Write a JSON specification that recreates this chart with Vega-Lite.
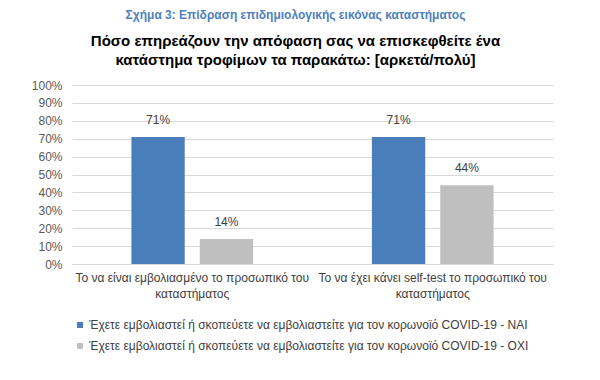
{
  "$schema": "https://vega.github.io/schema/vega-lite/v6.json",
  "autosize": "none",
  "width": 481,
  "height": 179,
  "padding": {"left": 72, "top": 85, "right": 47, "bottom": 116},
  "background": "white",
  "title": {
    "text": "Σχήμα 3: Επίδραση επιδημιολογικής εικόνας καταστήματος",
    "subtitle": ["Πόσο επηρεάζουν την απόφαση σας να επισκεφθείτε ένα", "κατάστημα τροφίμων τα παρακάτω: [αρκετά/πολύ]"],
    "anchor": "middle",
    "dx": -17,
    "offset": 10,
    "font": "Liberation Sans",
    "fontSize": 12,
    "fontWeight": "bold",
    "color": "#4f81bd",
    "subtitleFont": "Liberation Sans",
    "subtitleFontSize": 15,
    "subtitleFontWeight": "bold",
    "subtitleColor": "#000000",
    "subtitleLineHeight": 19,
    "subtitlePadding": 12
  },
  "data": {
    "values": [
      {"category": "Το να είναι εμβολιασμένο το προσωπικό του|καταστήματος", "group": "Έχετε εμβολιαστεί ή σκοπεύετε να εμβολιαστείτε για τον κορωνοϊό COVID-19 - ΝΑΙ", "value": 0.71},
      {"category": "Το να είναι εμβολιασμένο το προσωπικό του|καταστήματος", "group": "Έχετε εμβολιαστεί ή σκοπεύετε να εμβολιαστείτε για τον κορωνοϊό COVID-19 - ΟΧΙ", "value": 0.14},
      {"category": "Το να έχει κάνει self-test το προσωπικό του|καταστήματος", "group": "Έχετε εμβολιαστεί ή σκοπεύετε να εμβολιαστείτε για τον κορωνοϊό COVID-19 - ΝΑΙ", "value": 0.71},
      {"category": "Το να έχει κάνει self-test το προσωπικό του|καταστήματος", "group": "Έχετε εμβολιαστεί ή σκοπεύετε να εμβολιαστείτε για τον κορωνοϊό COVID-19 - ΟΧΙ", "value": 0.44}
    ]
  },
  "encoding": {
    "x": {
      "field": "category",
      "type": "nominal",
      "sort": null,
      "scale": {"paddingInner": 0.494, "paddingOuter": 0.247},
      "axis": {
        "title": null,
        "labelAngle": 0,
        "labelExpr": "split(datum.label, '|')",
        "labelFont": "Liberation Sans",
        "labelFontSize": 12,
        "labelColor": "#404040",
        "labelLineHeight": 16,
        "labelPadding": 8,
        "ticks": false,
        "domain": true,
        "domainColor": "#d9d9d9",
        "labelLimit": 300
      }
    },
    "xOffset": {
      "field": "group",
      "type": "nominal",
      "sort": null,
      "scale": {"paddingInner": 0.22, "paddingOuter": 0}
    },
    "y": {
      "field": "value",
      "type": "quantitative",
      "scale": {"domain": [0, 1], "nice": false},
      "axis": {
        "title": null,
        "format": ".0%",
        "values": [0, 0.1, 0.2, 0.3, 0.4, 0.5, 0.6, 0.7, 0.8, 0.9, 1],
        "labelFont": "Liberation Sans",
        "labelFontSize": 12,
        "labelColor": "#595959",
        "labelPadding": 10,
        "ticks": false,
        "domain": false,
        "gridColor": "#d9d9d9",
        "gridWidth": 1
      }
    }
  },
  "layer": [
    {
      "mark": {"type": "bar"},
      "encoding": {
        "color": {
          "field": "group",
          "type": "nominal",
          "sort": null,
          "scale": {"range": ["#4a7ebb", "#bfbfbf"]},
          "legend": {
            "title": null,
            "orient": "none",
            "direction": "vertical",
            "legendX": 2,
            "legendY": 234,
            "symbolType": "square",
            "symbolSize": 36,
            "symbolStrokeWidth": 0,
            "labelFont": "Liberation Sans",
            "labelFontSize": 12,
            "labelColor": "#404040",
            "labelLimit": 600,
            "rowPadding": 9,
            "labelOffset": 3
          }
        }
      }
    },
    {
      "mark": {"type": "text", "dy": -10, "baseline": "bottom", "font": "Liberation Sans", "fontSize": 12, "color": "#404040"},
      "encoding": {
        "text": {"field": "value", "type": "quantitative", "format": ".0%"}
      }
    }
  ],
  "config": {
    "view": {"stroke": null}
  }
}
